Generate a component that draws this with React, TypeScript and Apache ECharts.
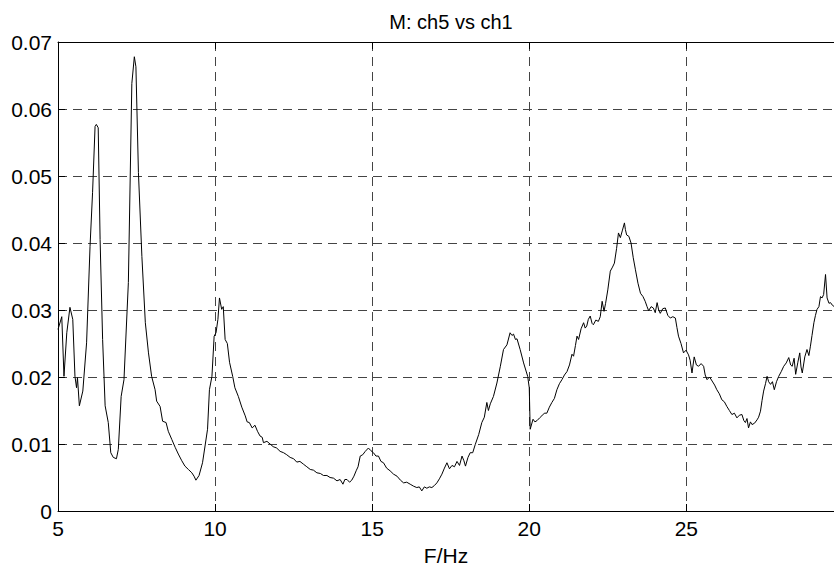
import React, { useEffect, useRef } from "react";
import * as echarts from "echarts";

// Spectrum magnitude |M| (ch5 vs ch1): [F/Hz, value]
const segLow: [number, number][] = [
  [5.0, 0.0271], [5.12, 0.029], [5.19, 0.0201], [5.28, 0.0266], [5.38, 0.0304], [5.47, 0.0286],
  [5.54, 0.0201], [5.59, 0.0184], [5.62, 0.0199], [5.68, 0.0157], [5.79, 0.0179], [5.91, 0.0251],
  [6.02, 0.0395], [6.1, 0.0475], [6.18, 0.0574], [6.22, 0.0577], [6.28, 0.0572], [6.34, 0.0405],
  [6.42, 0.0256], [6.5, 0.0157], [6.6, 0.0132], [6.68, 0.0087], [6.76, 0.008], [6.86, 0.0078],
  [6.92, 0.0092], [7.01, 0.0171], [7.1, 0.0196], [7.24, 0.0341], [7.35, 0.0638], [7.43, 0.0678],
  [7.48, 0.0663], [7.56, 0.0505], [7.67, 0.038], [7.78, 0.0281], [7.88, 0.0236], [7.98, 0.0201],
  [8.09, 0.0181], [8.14, 0.0164], [8.25, 0.0156], [8.33, 0.0134], [8.44, 0.0132], [8.51, 0.0119],
  [8.62, 0.0107], [8.73, 0.0095], [8.83, 0.0085], [8.94, 0.0075], [9.04, 0.0067], [9.15, 0.0062],
  [9.26, 0.0057], [9.33, 0.0052], [9.39, 0.0046], [9.49, 0.0053], [9.6, 0.0072], [9.68, 0.0097],
  [9.76, 0.0122], [9.82, 0.0181], [9.9, 0.0201], [9.97, 0.0261], [10.03, 0.0266], [10.09, 0.0286],
  [10.14, 0.0318], [10.21, 0.0301], [10.26, 0.0305], [10.32, 0.0256], [10.39, 0.025], [10.46, 0.0222],
  [10.56, 0.0201], [10.63, 0.0184], [10.74, 0.0171], [10.85, 0.0155], [10.96, 0.0142], [11.02, 0.0133],
  [11.09, 0.0132],
];

const segMid: [number, number][] = [
  [11.18, 0.0124], [11.27, 0.0128], [11.35, 0.0119], [11.43, 0.0112], [11.5, 0.011], [11.54, 0.0102],
  [11.65, 0.0104], [11.75, 0.01], [11.85, 0.0096], [11.96, 0.0094], [12.07, 0.0089], [12.18, 0.0087],
  [12.28, 0.0084], [12.39, 0.008], [12.5, 0.0078], [12.6, 0.0073], [12.7, 0.0074], [12.81, 0.007],
  [12.92, 0.0066], [13.03, 0.0062], [13.13, 0.0061], [13.24, 0.0057], [13.35, 0.0056], [13.45, 0.0053],
  [13.56, 0.0053], [13.66, 0.005], [13.77, 0.0049], [13.88, 0.0045], [13.98, 0.0047], [14.07, 0.004],
  [14.13, 0.0047], [14.2, 0.0047], [14.28, 0.0043], [14.35, 0.0046], [14.42, 0.0052], [14.49, 0.006],
  [14.55, 0.0066], [14.62, 0.0082], [14.7, 0.0084], [14.78, 0.0089], [14.88, 0.0094], [14.96, 0.009],
  [15.04, 0.0087], [15.12, 0.0082], [15.2, 0.0082], [15.28, 0.0074], [15.36, 0.0072], [15.46, 0.0064],
  [15.57, 0.006], [15.68, 0.0055], [15.79, 0.0052], [15.9, 0.0046], [16.0, 0.0042], [16.1, 0.0043],
  [16.21, 0.004], [16.32, 0.0037], [16.42, 0.0035], [16.5, 0.0036], [16.58, 0.003], [16.66, 0.0036],
  [16.74, 0.0034], [16.82, 0.0036], [16.9, 0.0035], [16.98, 0.0038], [17.06, 0.0042], [17.14, 0.0048],
  [17.22, 0.0055], [17.3, 0.0064], [17.38, 0.0072], [17.46, 0.0063], [17.54, 0.0068], [17.62, 0.0066],
  [17.7, 0.0074], [17.78, 0.0068], [17.86, 0.0082], [17.92, 0.0075], [17.97, 0.0067], [18.05, 0.008],
  [18.12, 0.0087], [18.2, 0.0087], [18.28, 0.0099], [18.39, 0.0114], [18.49, 0.0132], [18.57, 0.014],
  [18.65, 0.0162], [18.7, 0.015], [18.76, 0.016], [18.86, 0.0171], [18.97, 0.0191], [19.08, 0.0216],
  [19.18, 0.0241], [19.29, 0.0248], [19.39, 0.0266], [19.45, 0.0262], [19.5, 0.0264], [19.56, 0.0256],
  [19.61, 0.0257], [19.71, 0.0241], [19.82, 0.0221], [19.95, 0.0201], [20.0, 0.0184], [20.03, 0.0122],
  [20.12, 0.0137], [20.18, 0.0133], [20.25, 0.0135], [20.33, 0.0139], [20.4, 0.0142], [20.48, 0.0146],
  [20.56, 0.0146], [20.64, 0.0155], [20.72, 0.0162], [20.8, 0.0168], [20.88, 0.0181], [20.96, 0.019],
];

const segHigh: [number, number][] = [
  [21.04, 0.0196], [21.12, 0.0203], [21.2, 0.0208], [21.28, 0.0218], [21.36, 0.0234], [21.41, 0.0231],
  [21.47, 0.0247], [21.52, 0.0261], [21.57, 0.0256], [21.65, 0.0272], [21.73, 0.0281], [21.78, 0.0273],
  [21.83, 0.0276], [21.88, 0.0286], [21.94, 0.0291], [22.0, 0.028], [22.04, 0.0278], [22.12, 0.0285],
  [22.2, 0.0283], [22.26, 0.029], [22.32, 0.0313], [22.38, 0.0298], [22.43, 0.031], [22.5, 0.033],
  [22.58, 0.0358], [22.65, 0.0364], [22.71, 0.037], [22.78, 0.0392], [22.84, 0.0415], [22.9, 0.0408],
  [22.96, 0.0418], [23.03, 0.043], [23.06, 0.042], [23.1, 0.0412], [23.17, 0.041], [23.24, 0.04],
  [23.31, 0.0378], [23.38, 0.036], [23.46, 0.034], [23.54, 0.0325], [23.62, 0.032], [23.69, 0.0313],
  [23.75, 0.0305], [23.8, 0.0299], [23.88, 0.0305], [23.95, 0.0303], [24.01, 0.0296], [24.07, 0.0311],
  [24.12, 0.03], [24.17, 0.0295], [24.25, 0.0302], [24.33, 0.0303], [24.41, 0.0292], [24.49, 0.0288],
  [24.57, 0.029], [24.65, 0.0288], [24.7, 0.0274], [24.75, 0.0261], [24.83, 0.025], [24.91, 0.0236],
  [24.99, 0.024], [25.07, 0.0233], [25.12, 0.0225], [25.18, 0.0206], [25.25, 0.023], [25.32, 0.0218],
  [25.39, 0.0216], [25.47, 0.022], [25.55, 0.0216], [25.6, 0.0203], [25.66, 0.0196], [25.74, 0.02],
  [25.82, 0.0194], [25.9, 0.0188], [25.97, 0.0181], [26.05, 0.0175], [26.13, 0.0166], [26.21, 0.0163],
  [26.29, 0.0156], [26.37, 0.015], [26.45, 0.0144], [26.53, 0.0146], [26.61, 0.0139], [26.69, 0.0143],
  [26.77, 0.0144], [26.83, 0.0135], [26.88, 0.0132], [26.93, 0.0138], [26.98, 0.0124], [27.04, 0.0133],
  [27.09, 0.0129], [27.17, 0.0131], [27.25, 0.0136], [27.3, 0.014], [27.36, 0.0149], [27.41, 0.0165],
  [27.46, 0.0179], [27.52, 0.019], [27.57, 0.0201], [27.62, 0.0193], [27.68, 0.0189], [27.74, 0.0193],
  [27.8, 0.0181], [27.87, 0.0193], [27.94, 0.0201], [28.02, 0.0208], [28.1, 0.0216], [28.18, 0.0221],
  [28.26, 0.0229], [28.32, 0.0218], [28.37, 0.0216], [28.43, 0.0228], [28.48, 0.0204], [28.55, 0.0222],
  [28.61, 0.0236], [28.65, 0.0215], [28.69, 0.0206], [28.77, 0.023], [28.84, 0.0241], [28.9, 0.0232],
  [28.95, 0.0246], [29.0, 0.0262], [29.06, 0.0281], [29.11, 0.0292], [29.16, 0.0301], [29.22, 0.0305],
  [29.27, 0.032], [29.32, 0.0318], [29.37, 0.0323], [29.43, 0.0353], [29.48, 0.0318], [29.54, 0.031],
  [29.59, 0.0311], [29.65, 0.0307], [29.71, 0.0305],
];

const xTicks = [5, 10, 15, 20, 25];
const titleText = "M: ch5 vs ch1";
const xName = "F/Hz";

export default function App() {
  const ref = useRef<HTMLDivElement>(null);
  useEffect(() => {
    if (!ref.current) return;
    const chart = echarts.init(ref.current, null, { renderer: "svg" });
    const font = "Liberation Sans";
    const data = [...segLow, ...segMid, ...segHigh];
    const gridDash = { type: [9, 6] as any, color: "#444", width: 1 };
    chart.setOption({
      animation: false,
      backgroundColor: "#ffffff",
      title: {
        text: titleText,
        left: 446,
        top: 7,
        textAlign: "center",
        textStyle: { fontFamily: font, fontSize: 20, fontWeight: "normal", color: "#000" },
      },
      grid: { left: 58, top: 42, right: 0, bottom: 59 },
      xAxis: [
        {
          type: "value",
          min: 5,
          max: 29.7,
          interval: 5,
          position: "bottom",
          name: xName,
          nameLocation: "middle",
          nameGap: 34,
          nameTextStyle: { fontFamily: font, fontSize: 21, color: "#000" },
          axisLine: { show: true, onZero: false, lineStyle: { color: "#000", width: 1 } },
          axisTick: { show: true, inside: true, length: 7, lineStyle: { color: "#000" } },
          axisLabel: {
            margin: 7,
            fontFamily: font,
            fontSize: 21,
            color: "#000",
            showMaxLabel: false,
            formatter: (v: number) => (xTicks.includes(v) ? String(v) : ""),
          },
          splitLine: { show: true, lineStyle: gridDash },
        },
        {
          type: "value",
          min: 5,
          max: 29.7,
          interval: 5,
          position: "top",
          axisLine: { show: true, onZero: false, lineStyle: { color: "#000", width: 1 } },
          axisTick: { show: true, inside: true, length: 7, lineStyle: { color: "#000" } },
          axisLabel: { show: false },
          splitLine: { show: false },
        },
      ],
      yAxis: [
        {
          type: "value",
          min: 0,
          max: 0.07,
          interval: 0.01,
          axisLine: { show: true, onZero: false, lineStyle: { color: "#000", width: 1 } },
          axisTick: { show: true, inside: true, length: 7, lineStyle: { color: "#000" } },
          axisLabel: { margin: 6, fontFamily: font, fontSize: 21, color: "#000" },
          splitLine: { show: true, lineStyle: gridDash },
        },
      ],
      series: [
        {
          type: "line",
          data,
          xAxisIndex: 0,
          yAxisIndex: 0,
          showSymbol: false,
          symbol: "none",
          clip: true,
          lineStyle: { color: "#000", width: 1 },
        },
      ],
    });
    return () => chart.dispose();
  }, []);
  return (
    <div
      ref={ref}
      style={{ position: "absolute", left: 0, top: 0, width: 834, height: 571 }}
    />
  );
}
